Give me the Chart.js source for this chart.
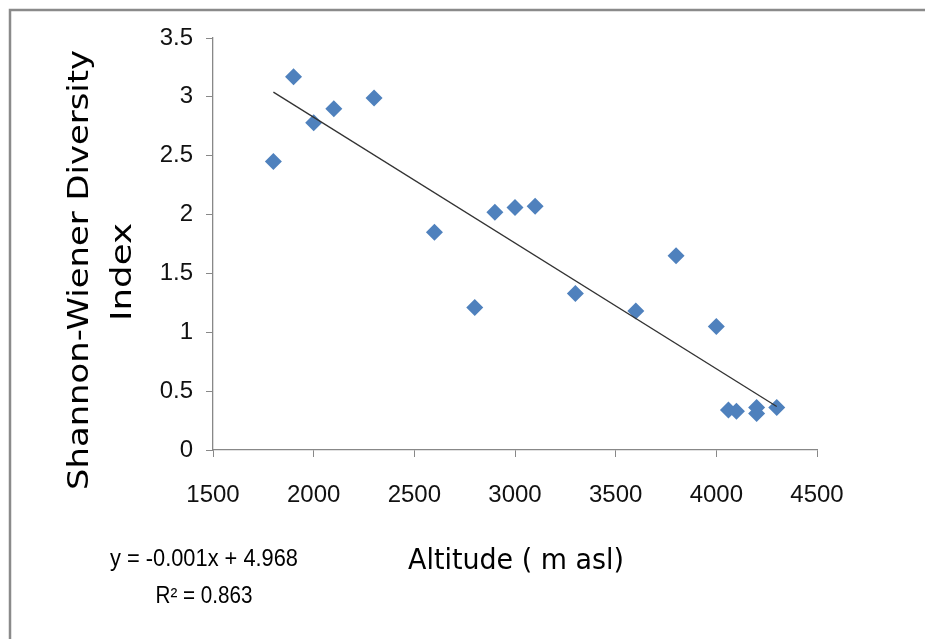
<!DOCTYPE html>
<html>
<head>
<meta charset="utf-8">
<script src="https://cdn.jsdelivr.net/npm/chart.js@4"></script>
<style>
  html, body { margin: 0; padding: 0; background: #fff; overflow: hidden; }
  #wrap { width: 925px; height: 639px; position: relative; overflow: hidden; }
  canvas { display: block; }
</style>
</head>
<body>
<div id="wrap"><canvas id="c" width="925" height="639"></canvas></div>
<script>
// Data
const altitude = [1800, 1900, 2000, 2100, 2300, 2600, 2800, 2900, 3000, 3100, 3300, 3600, 3800, 4000, 4060, 4100, 4200, 4200, 4300];
const diversity = [2.45, 3.17, 2.78, 2.90, 2.99, 1.85, 1.21, 2.02, 2.06, 2.07, 1.33, 1.18, 1.65, 1.05, 0.34, 0.33, 0.31, 0.36, 0.36];
const trendX = [1800, 4300];
const trendY = [3.04, 0.37];
const xTicks = [1500, 2000, 2500, 3000, 3500, 4000, 4500];
const yTicks = [0, 0.5, 1, 1.5, 2, 2.5, 3, 3.5];
const yTitleLines = ["Shannon-Wiener Diversity", "Index"];
const xTitle = "Altitude ( m asl)";
const equationLines = ["y = -0.001x + 4.968", "R\u00b2 = 0.863"];

const points = altitude.map((x, i) => ({ x: x, y: diversity[i] }));
const trend = trendX.map((x, i) => ({ x: x, y: trendY[i] }));

const casual = '"Comic Sans MS", "DejaVu Sans", sans-serif';
const eqFont = '"Liberation Sans Narrow", "Liberation Sans", Arial, sans-serif';

function drawFitted(ctx, text, cx, cy, font, targetW) {
  ctx.font = font;
  const w = ctx.measureText(text).width;
  const s = targetW / w;
  ctx.save();
  ctx.translate(cx, cy);
  ctx.scale(s, 1);
  ctx.textAlign = 'center';
  ctx.textBaseline = 'middle';
  ctx.fillText(text, 0, 0);
  ctx.restore();
}

const decor = {
  id: 'decor',
  beforeDraw(chart) {
    const ctx = chart.ctx;
    ctx.save();
    ctx.fillStyle = '#fff';
    ctx.fillRect(0, 0, chart.width, chart.height);
    ctx.strokeStyle = '#8a8a8a';
    ctx.lineWidth = 2.5;
    ctx.beginPath();
    ctx.moveTo(10, 645);
    ctx.lineTo(10, 10);
    ctx.lineTo(935, 10);
    ctx.stroke();
    ctx.restore();
  },
  afterDraw(chart) {
    const ctx = chart.ctx;
    ctx.save();
    ctx.fillStyle = '#000';
    ctx.save();
    ctx.translate(80, 270);
    ctx.rotate(-Math.PI / 2);
    drawFitted(ctx, yTitleLines[0], 0, 0, '29px ' + casual, 440);
    ctx.restore();
    ctx.save();
    ctx.translate(123, 272);
    ctx.rotate(-Math.PI / 2);
    drawFitted(ctx, yTitleLines[1], 0, 0, '29px ' + casual, 98);
    ctx.restore();
    drawFitted(ctx, xTitle, 516, 562, '28px ' + casual, 216);
    drawFitted(ctx, equationLines[0], 204, 560, '23px ' + eqFont, 188);
    drawFitted(ctx, equationLines[1], 204, 597, '23px ' + eqFont, 97);
    ctx.restore();
  }
};

new Chart(document.getElementById('c'), {
  type: 'scatter',
  data: {
    datasets: [
      {
        label: 'Shannon-Wiener Diversity Index',
        data: points,
        pointStyle: 'rectRot',
        pointRadius: 8.5,
        pointHoverRadius: 8.5,
        backgroundColor: '#4F81BD',
        borderColor: '#4F81BD',
        borderWidth: 0,
        order: 2
      },
      {
        label: 'Linear trend',
        type: 'line',
        data: trend,
        borderColor: '#333333',
        borderWidth: 1.3,
        pointRadius: 0,
        fill: false,
        order: 1
      }
    ]
  },
  options: {
    responsive: false,
    animation: false,
    events: [],
    layout: { padding: { left: 0, top: 38, right: 108, bottom: 0 } },
    plugins: { legend: { display: false }, tooltip: { enabled: false } },
    scales: {
      x: {
        type: 'linear',
        min: 1500, max: 4500,
        afterBuildTicks(scale) { scale.ticks = xTicks.map(v => ({ value: v })); },
        afterFit(scale) { scale.height = 189; },
        grid: { display: true, drawOnChartArea: false, drawTicks: true, tickLength: 7, color: '#888888' },
        border: { display: true, color: '#888888', width: 1.3 },
        ticks: { color: '#111', padding: 24, maxRotation: 0, callback: v => String(v), font: { family: '"Liberation Sans", Arial, sans-serif', size: 24 } }
      },
      y: {
        type: 'linear',
        min: 0, max: 3.5,
        afterBuildTicks(scale) { scale.ticks = yTicks.map(v => ({ value: v })); },
        afterFit(scale) { scale.width = 213; },
        grid: { display: true, drawOnChartArea: false, drawTicks: true, tickLength: 7, color: '#888888' },
        border: { display: true, color: '#888888', width: 1.3 },
        ticks: { color: '#111', padding: 13, callback: v => String(v), font: { family: '"Liberation Sans", Arial, sans-serif', size: 24 } }
      }
    }
  },
  plugins: [decor]
});
</script>
</body>
</html>
